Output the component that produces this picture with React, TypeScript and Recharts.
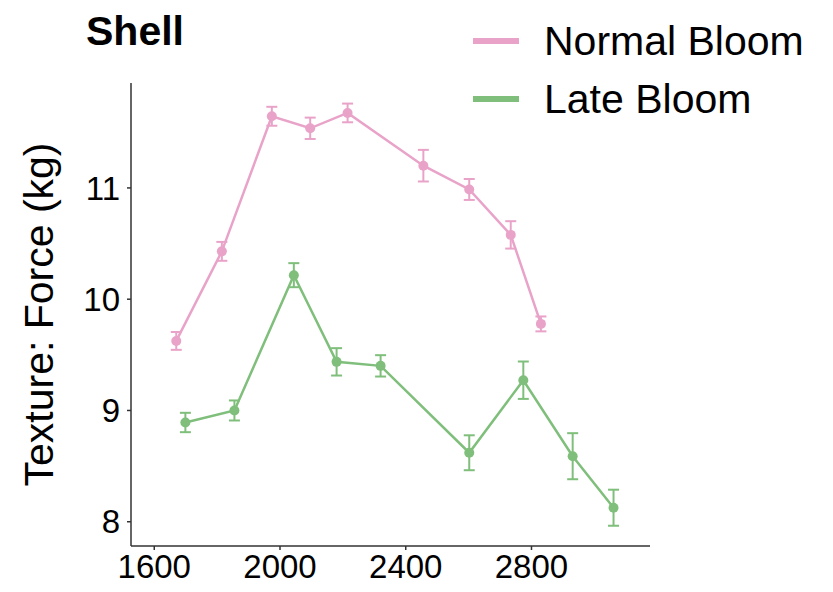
import React from 'react';
import { LineChart, Line, XAxis, YAxis, ErrorBar } from 'recharts';

// harvest date (x), mean force and standard error per group
const normalX = [1670, 1815, 1974, 2096, 2215, 2456, 2602, 2734, 2830];
const normalY = [9.625, 10.43, 11.644, 11.536, 11.674, 11.2, 10.986, 10.578, 9.778];
const normalErr = [0.08, 0.085, 0.085, 0.096, 0.084, 0.142, 0.094, 0.123, 0.067];

const lateX = [1699, 1855, 2044, 2180, 2320, 2602, 2774, 2931, 3061];
const lateY = [8.892, 9.0, 10.216, 9.437, 9.401, 8.62, 9.272, 8.589, 8.126];
const lateErr = [0.087, 0.09, 0.108, 0.123, 0.096, 0.157, 0.168, 0.207, 0.162];

const xTicks = [1600, 2000, 2400, 2800];
const yTicks = [8, 9, 10, 11];

const PINK = '#E9A3C9';
const GREEN = '#7FBF7B';
const FONT = '"Liberation Sans", Arial, sans-serif';

const normal = normalX.map((x, i) => ({ x, y: normalY[i], err: normalErr[i] }));
const late = lateX.map((x, i) => ({ x, y: lateY[i], err: lateErr[i] }));

const legendItems = [
  { name: 'Normal Bloom', color: PINK },
  { name: 'Late Bloom', color: GREEN },
];

const YLabel = ({ viewBox }: any) => {
  const cy = viewBox.y + viewBox.height / 2;
  return (
    <text
      x={53}
      y={cy}
      transform={`rotate(-90, 53, ${cy})`}
      textAnchor="middle"
      fontSize={41}
      fontFamily={FONT}
      fill="#000"
    >
      Texture: Force (kg)
    </text>
  );
};

export default function App() {
  const tick = { fontSize: 33, fontFamily: FONT, fill: '#000' };
  const axisLine = { stroke: '#333', strokeWidth: 1.5 };
  return (
    <div style={{ position: 'absolute', left: 0, top: 0, width: 833, height: 592, background: '#fff' }}>
      <div
        style={{
          position: 'absolute',
          left: 86,
          top: 6,
          fontFamily: FONT,
          fontWeight: 'bold',
          fontSize: 41,
          lineHeight: '50px',
        }}
      >
        Shell
      </div>
      <div style={{ position: 'absolute', left: 473, top: 12, fontFamily: FONT, fontSize: 41 }}>
        {legendItems.map((it) => (
          <div key={it.name} style={{ display: 'flex', alignItems: 'center', height: 58, lineHeight: '58px' }}>
            <svg width={46} height={6} style={{ marginRight: 25 }}>
              <rect width={46} height={6} fill={it.color} />
            </svg>
            <span>{it.name}</span>
          </div>
        ))}
      </div>
      <LineChart width={833} height={592} margin={{ top: 83, right: 183, bottom: 6, left: 71 }}>
        <XAxis
          type="number"
          dataKey="x"
          domain={[1526, 3177]}
          ticks={xTicks}
          allowDataOverflow
          height={40}
          tick={tick}
          tickSize={4}
          tickMargin={5}
          axisLine={axisLine}
          tickLine={axisLine}
        />
        <YAxis
          type="number"
          dataKey="y"
          domain={[7.782, 11.943]}
          ticks={yTicks}
          allowDataOverflow
          width={60}
          tick={tick}
          tickSize={4}
          tickMargin={7}
          axisLine={axisLine}
          tickLine={axisLine}
          label={<YLabel />}
        />
        <Line
          data={normal}
          dataKey="y"
          stroke={PINK}
          strokeWidth={2.5}
          dot={{ r: 5, fill: PINK, stroke: 'none' }}
          isAnimationActive={false}
        >
          <ErrorBar dataKey="err" width={5.5} stroke={PINK} strokeWidth={2} direction="y" isAnimationActive={false} />
        </Line>
        <Line
          data={late}
          dataKey="y"
          stroke={GREEN}
          strokeWidth={2.5}
          dot={{ r: 5, fill: GREEN, stroke: 'none' }}
          isAnimationActive={false}
        >
          <ErrorBar dataKey="err" width={5.5} stroke={GREEN} strokeWidth={2} direction="y" isAnimationActive={false} />
        </Line>
      </LineChart>
    </div>
  );
}
